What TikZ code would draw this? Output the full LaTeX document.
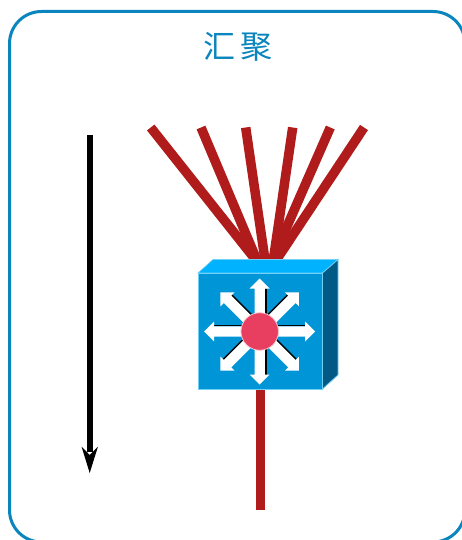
\documentclass[tikz,border=0pt]{standalone}
\usepackage{fontspec}
\newfontfamily\cjk{Noto Sans CJK SC}
\definecolor{framec}{HTML}{0A85BD}
\definecolor{redc}{HTML}{B01C1C}
\definecolor{frontc}{HTML}{0095D6}
\definecolor{topc}{HTML}{00B2FF}
\definecolor{sidec}{HTML}{005A85}
\definecolor{edgec}{HTML}{70D0F5}
\definecolor{hubc}{HTML}{E83E5F}
\tikzset{
  frameline/.style={draw=framec,line width=3pt,rounded corners=32pt},
  link/.style={draw=redc,line width=9.5pt},
  flow/.style={draw=black,line width=6pt},
  facefront/.style={fill=frontc,draw=edgec,line width=0.8pt},
  facetop/.style={fill=topc,draw=edgec,line width=0.6pt},
  faceside/.style={fill=sidec,draw=edgec,line width=0.8pt},
  title/.style={text=framec,font=\cjk\fontsize{32}{32}\selectfont,inner sep=0pt},
  hub/.style={circle,fill=hubc,draw=white!70!hubc,line width=0.8pt,minimum size=37.5pt,inner sep=0pt}
}
\begin{document}
\begin{tikzpicture}[x=1pt,y=-1pt]
\useasboundingbox (0,0) rectangle (461,540);
\fill[white] (0,0) rectangle (461,540);
\draw[frameline] (9.5,11.5) rectangle (465,542);
\node[title] (heading) at (238,47) {汇\hspace{5pt}聚};
% upstream links
\foreach \name/\tx/\bx in {a/150.7/255.8,b/201/256.8,c/245.7/265,d/292.7/273.3,e/330.3/272.3,f/364/276.3}{
  \coordinate (u\name) at (\tx,127.5);
  \coordinate (v\name) at (\bx,260);
  \draw[link] (u\name) -- (v\name);
}
% switch body
\coordinate (fa) at (198,273);
\coordinate (fb) at (322.5,273);
\coordinate (fc) at (322.5,389);
\coordinate (fd) at (198,389);
\coordinate (ba) at (213,259.5);
\coordinate (bb) at (338,259.5);
\coordinate (bc) at (338,375);
\coordinate (swbottom) at (260.5,389);
\coordinate (linkend) at (260.5,510);
\draw[link] (swbottom) -- (linkend);
\draw[facetop] (fa) -- (ba) -- (bb) -- (fb) -- cycle;
\draw[faceside] (fb) -- (bb) -- (bc) -- (fc) -- cycle;
\draw[facefront] (fa) -- (fb) -- (fc) -- (fd) -- cycle;
% eight arrows
\coordinate (hubc) at (259.7,331.5);
\foreach \ang/\side/\tip in {0/-1/55.5,45/-1/55.5,90/1/53,135/1/55.5,180/1/55.5,225/1/55.5,270/-1/53,315/-1/55.5}{
  \begin{scope}[shift={(hubc)},rotate=\ang]
    \fill[black] (10,{\side*5.2}) rectangle ({\tip-10},{\side*6.8});
    \fill[white] (10,-5.2) -- ({\tip-10},-5.2) -- ({\tip-10},-10) -- (\tip,0) -- ({\tip-10},10) -- ({\tip-10},5.2) -- (10,5.2) -- cycle;
  \end{scope}
}
\node[hub] (centre) at (hubc) {};
% flow arrow
\coordinate (flowa) at (89.7,135);
\coordinate (flowb) at (89.7,452);
\draw[flow] (flowa) -- (flowb);
\fill[black] (89.7,473) -- (81.5,446.5) -- (89.7,455) -- (98,446.5) -- cycle;
\end{tikzpicture}
\end{document}
